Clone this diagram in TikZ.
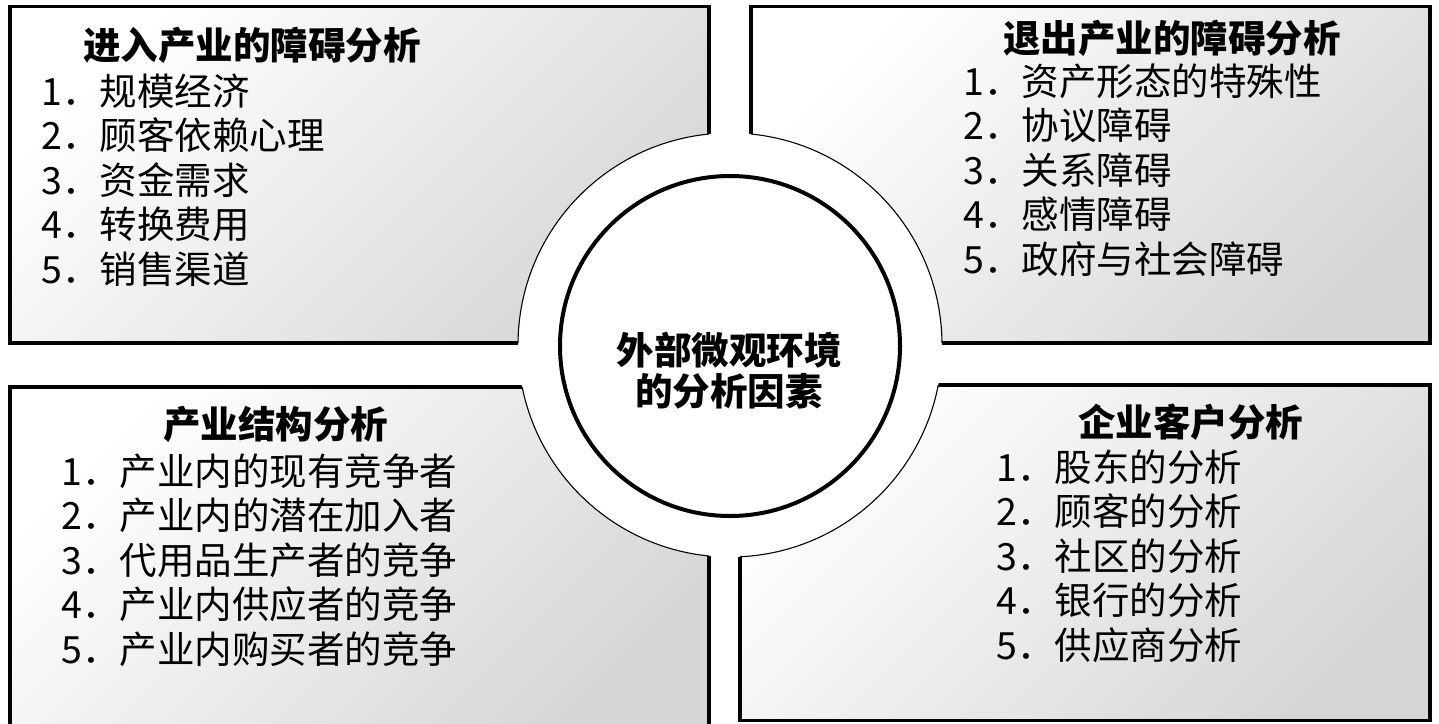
\documentclass[tikz,border=0pt]{standalone}
\usepackage{fontspec}
\newfontfamily\cjk{Noto Sans CJK SC}
\begin{document}
\begin{tikzpicture}[x=1pt,y=-1pt,
  boxshade/.style={top color=white,bottom color=black!16,shading angle=45},
  boxline/.style={draw=black,line width=3.5pt},
  ringline/.style={draw=black,line width=1.1pt},
  hubline/.style={draw=black,line width=4pt,fill=white},
  ttl/.style={font=\cjk\bfseries\fontsize{37.5}{44}\selectfont,anchor=base west,inner sep=0pt},
  itm/.style={font=\cjk\fontsize{37.5}{44}\selectfont,anchor=base west,inner sep=0pt},
  hub/.style={font=\cjk\bfseries\fontsize{37.5}{44}\selectfont,anchor=base,inner sep=0pt}]
\useasboundingbox (0,0) rectangle (1439,723);
\fill[white] (0,0) rectangle (1439,723);
% boxes
\foreach \a/\b/\c/\d in {10/6.5/709/343, 751/6.5/1430/343, 10/387/709/730, 740/385/1430/720.5} {
  \shade[boxshade] (\a,\b) rectangle (\c,\d);
  \draw[boxline] (\a,\b) rectangle (\c,\d);
}
% ring
\fill[white] (730,345) circle (212);
\begin{scope}
  \clip (10,6.5) rectangle (709,343) (751,6.5) rectangle (1430,343)
        (10,387) rectangle (709,730) (740,385) rectangle (1430,720.5);
  \draw[ringline] (730,345) circle (212);
\end{scope}
% hub
\draw[hubline] (730,346) circle (170);
\node[hub] (h1) at (729,364) {外部微观环境};
\node[hub] (h2) at (729,405) {的分析因素};
% TL
\node[ttl] (tlt) at (83,59) {进入产业的障碍分析};
\node[itm] (tl1) at (41,105) {1．规模经济};
\node[itm] (tl2) at (41,149.5) {2．顾客依赖心理};
\node[itm] (tl3) at (41,194) {3．资金需求};
\node[itm] (tl4) at (41,238.5) {4．转换费用};
\node[itm] (tl5) at (41,283) {5．销售渠道};
% TR
\node[ttl] (trt) at (1003,52) {退出产业的障碍分析};
\node[itm] (tr1) at (963,95) {1．资产形态的特殊性};
\node[itm] (tr2) at (963,139.5) {2．协议障碍};
\node[itm] (tr3) at (963,184) {3．关系障碍};
\node[itm] (tr4) at (963,228.5) {4．感情障碍};
\node[itm] (tr5) at (963,273) {5．政府与社会障碍};
% BL
\node[ttl] (blt) at (163,438) {产业结构分析};
\node[itm] (bl1) at (61,485) {1．产业内的现有竞争者};
\node[itm] (bl2) at (61,529.5) {2．产业内的潜在加入者};
\node[itm] (bl3) at (61,574) {3．代用品生产者的竞争};
\node[itm] (bl4) at (61,618.5) {4．产业内供应者的竞争};
\node[itm] (bl5) at (61,663) {5．产业内购买者的竞争};
% BR
\node[ttl] (brt) at (1078,436) {企业客户分析};
\node[itm] (br1) at (996,481) {1．股东的分析};
\node[itm] (br2) at (996,525.5) {2．顾客的分析};
\node[itm] (br3) at (996,570) {3．社区的分析};
\node[itm] (br4) at (996,614.5) {4．银行的分析};
\node[itm] (br5) at (996,659) {5．供应商分析};
\end{tikzpicture}
\end{document}
